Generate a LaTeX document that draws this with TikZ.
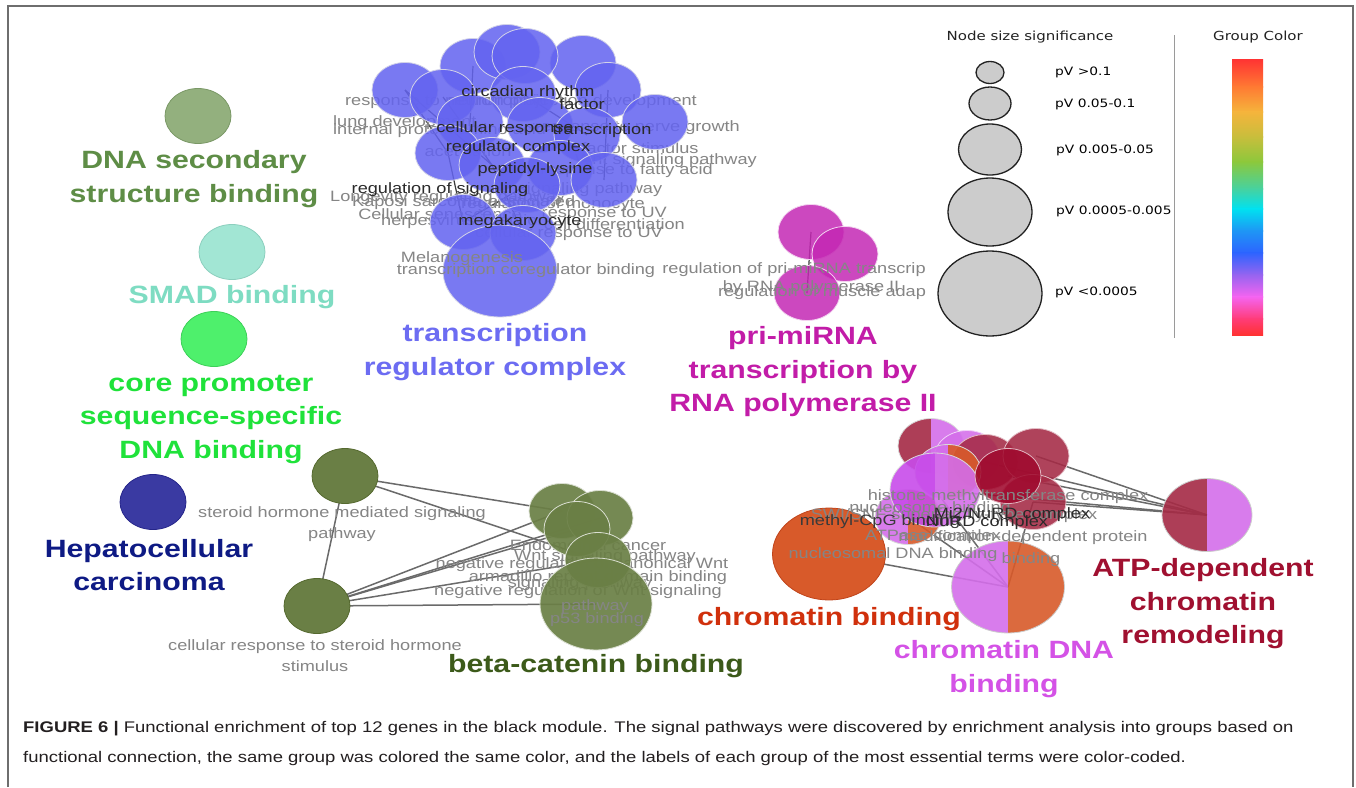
\documentclass[tikz,border=0pt]{standalone}
\usepackage{fontspec}
\usetikzlibrary{shapes.geometric}
\newfontfamily\labfont{Liberation Sans}[FakeStretch=1.21]
\newfontfamily\legfont{DejaVu Sans}[FakeStretch=1.2]
\newfontfamily\capfont{Liberation Sans}[FakeStretch=1.2]

\definecolor{framec}{HTML}{6E6E6E}
\definecolor{dnasecF}{HTML}{93B07E}\definecolor{dnasecD}{HTML}{7A9866}\definecolor{dnasecT}{HTML}{5E8D46}
\definecolor{smadF}{HTML}{A2E6D4}\definecolor{smadD}{HTML}{8CCFBE}\definecolor{smadT}{HTML}{7EDCC2}
\definecolor{coreF}{HTML}{4EF06C}\definecolor{coreD}{HTML}{3CD058}\definecolor{coreT}{HTML}{1FE23A}
\definecolor{hepF}{HTML}{3A3AA2}\definecolor{hepD}{HTML}{26268A}\definecolor{hepT}{HTML}{0E1A84}
\definecolor{tblue}{HTML}{6464F0}\definecolor{tblueline}{HTML}{D2D2E8}\definecolor{tblueT}{HTML}{6C6CF2}
\definecolor{pmag}{HTML}{C428B4}\definecolor{pmagT}{HTML}{C21CA8}
\definecolor{corg}{HTML}{D85A2A}\definecolor{corgD}{HTML}{C0441A}\definecolor{corgT}{HTML}{D0300C}
\definecolor{corch}{HTML}{D46EEA}\definecolor{cviol}{HTML}{C84CEA}\definecolor{corchT}{HTML}{D452E6}
\definecolor{ccrim}{HTML}{A52A45}\definecolor{cdeep}{HTML}{A00A2E}\definecolor{ccrimT}{HTML}{A01030}
\definecolor{oliveF}{HTML}{6A7F45}\definecolor{oliveD}{HTML}{55692F}\definecolor{oliveT}{HTML}{3C5A1A}
\definecolor{termgray}{HTML}{858585}\definecolor{termdark}{HTML}{2A2A2A}
\definecolor{linkgray}{HTML}{6A6A6A}\definecolor{darklinkc}{HTML}{3A3A3A}
\definecolor{legfill}{HTML}{CCCCCC}\definecolor{legline}{HTML}{222222}\definecolor{sepline}{HTML}{9A9A9A}
\definecolor{capc}{HTML}{231F20}
% colour bar stops
\definecolor{gA}{HTML}{FF3333}\definecolor{gB}{HTML}{FF7A33}\definecolor{gC}{HTML}{F5B43C}
\definecolor{gD}{HTML}{C8BE3C}\definecolor{gE}{HTML}{8CC83C}\definecolor{gF}{HTML}{46D2A0}
\definecolor{gG}{HTML}{00E1F0}\definecolor{gH}{HTML}{1E96F5}\definecolor{gI}{HTML}{2D64FF}
\definecolor{gJ}{HTML}{9664F0}\definecolor{gK}{HTML}{F564F0}\definecolor{gL}{HTML}{FF3C78}
\definecolor{gM}{HTML}{FF3232}

\pgfdeclarelayer{back}
\pgfdeclarelayer{edges}
\pgfsetlayers{back,edges,main}

\begin{document}
\begin{tikzpicture}[x=1pt,y=-1pt,
  term/.style={ellipse, inner sep=0pt, outer sep=0pt, minimum width=66pt, minimum height=55pt, line width=0.8pt},
  bigterm/.style={term, minimum width=113pt, minimum height=92pt},
  bnode/.style={term, fill=tblue, fill opacity=0.86, draw=tblueline},
  pnode/.style={term, fill=pmag, fill opacity=0.85, draw=white!80!pmag},
  onode/.style={term, fill=oliveF, fill opacity=0.92, draw=white!75!oliveF},
  cnode/.style={term, fill=#1, fill opacity=0.88, draw=white!70!#1},
  halves/.style 2 args={path picture={
      \fill[#1, fill opacity=0.9] (path picture bounding box.south west) rectangle (path picture bounding box.north);
      \fill[#2, fill opacity=0.9] (path picture bounding box.south) rectangle (path picture bounding box.north east);}},
  grp/.style={font=\labfont\bfseries\fontsize{25}{33.5}\selectfont, align=center, inner sep=0pt},
  termtext/.style={font=\labfont\fontsize{15}{21}\selectfont, inner sep=0pt, text=termgray, align=center},
  termdark/.style={termtext, text=termdark},
  link/.style={draw=linkgray, line width=1.5pt},
  darklink/.style={draw=darklinkc, line width=1.2pt},
  legc/.style={ellipse, inner sep=0pt, fill=legfill, draw=legline, line width=1.3pt},
  legtext/.style={font=\legfont\fontsize{11.5}{14}\selectfont, inner sep=0pt, anchor=west, text=black},
  legtitle/.style={font=\legfont\fontsize{12.5}{15}\selectfont, inner sep=0pt, text=legline},
  captext/.style={anchor=base west, inner sep=0pt, font=\capfont\fontsize{15.4}{18}\selectfont, text=capc}
]
\useasboundingbox (0,0) rectangle (1356,787);
\begin{pgfonlayer}{back}
  \fill[white] (0,0) rectangle (1356,787);
  \draw[framec, line width=1.4pt] (8,787) -- (8,6) -- (1353,6) -- (1353,787);
\end{pgfonlayer}

% ---------- isolated groups on the left ----------
\node[term, fill=dnasecF, draw=dnasecD] (dnasec) at (198,116) {};
\node[grp, text=dnasecT] (dnasecL) at (194,179) {DNA secondary\\structure binding};
\node[term, fill=smadF, draw=smadD] (smad) at (232,252) {};
\node[grp, text=smadT] (smadL) at (232,297) {SMAD binding};
\node[term, fill=coreF, draw=coreD] (core) at (214,339) {};
\node[grp, text=coreT] (coreL) at (211,419) {core promoter\\sequence-specific\\DNA binding};
\node[term, fill=hepF, draw=hepD] (hep) at (153,502) {};
\node[grp, text=hepT] (hepL) at (149,565) {Hepatocellular\\carcinoma};

% ---------- transcription regulator complex group ----------
\node[termtext, anchor=west] (t1) at (345,102) {response to neurotrophin};
\node[termtext, anchor=east] (t2) at (697,102) {neuron projection development};
\node[termtext, anchor=west] (t3) at (333,123) {lung development};
\node[termtext, anchor=west] (t4) at (333,131) {internal protein amino acid};
\node[termtext] (t5) at (468,153) {acetylation};
\node[termtext, anchor=east] (t6) at (740,128) {response to nerve growth};
\node[termtext] (t7) at (640,148) {factor stimulus};
\node[termtext, anchor=east] (t8) at (757,161) {Wnt signaling pathway};
\node[termtext, anchor=east] (t9) at (713,171) {response to fatty acid};
\node[termtext, anchor=west] (t10) at (330,198) {Longevity regulating pathway};
\node[termtext, anchor=west] (t11) at (352,203) {Kaposi sarcoma-associated};
\node[termtext, anchor=west] (t12) at (381,222) {herpesvirus infection};
\node[termtext, anchor=east] (t13) at (645,205) {regulation of monocyte};
\node[termtext, anchor=east] (t14) at (667,214) {response to UV};
\node[termtext, anchor=east] (t15) at (685,224) {cell differentiation};
\node[termtext] (t16) at (569,234) {cellular response to UV};
\node[termtext] (t19) at (440,214) {Cellular senescence};
\node[termtext] (t20) at (590,190) {signaling pathway};

\node[bnode] (b1) at (405,90) {};
\node[bnode] (b3) at (473,66) {};
\node[bnode] (b4) at (507,52) {};
\node[bnode] (b6) at (583,63) {};
\node[bnode] (b5) at (525,56) {};
\node[bnode] (b2) at (443,97) {};
\node[bnode] (b7) at (608,90) {};
\node[bnode] (b10) at (523,94) {};
\node[bnode] (b8) at (655,122) {};
\node[bnode] (b19) at (470,122) {};
\node[bnode] (b20) at (540,125) {};
\node[bnode] (b9) at (587,135) {};
\node[bnode] (b11) at (448,153) {};
\node[bnode] (b12) at (492,165) {};
\node[bnode] (b18) at (560,168) {};
\node[bnode] (b14) at (604,180) {};
\node[bnode] (b13) at (527,185) {};
\node[bnode] (b15) at (463,222) {};
\node[bnode] (b16) at (523,233) {};
\node[bnode, minimum width=114pt, minimum height=92pt] (b17) at (500,271) {};

\begin{pgfonlayer}{edges}
  \draw[darklink] (b1.center) -- (b11.center);
  \draw[darklink] (b2.center) -- (b12.center);
  \draw[darklink] (b3.center) -- (b19.center);
  \draw[darklink] (b10.center) -- (b9.center);
  \draw[darklink] (b15.center) -- (b13.center);
  \draw[darklink] (b12.center) -- (b16.center);
  \draw[darklink] (b1.center) -- (b12.center);
  \draw[darklink] (b11.center) -- (b15.center);
  \draw[darklink] (b7.center) -- (b14.center);
\end{pgfonlayer}

\node[termtext] (t17) at (462,259) {Melanogenesis};
\node[termtext] (t18) at (526,271) {transcription coregulator binding};
\node[termdark] (d1) at (528,93) {circadian rhythm};
\node[termdark] (d2) at (582,104) {factor};
\node[termdark] (d3) at (505,129) {cellular response};
\node[termdark] (d4) at (602,131) {transcription};
\node[termdark] (d5) at (518,148) {regulator complex};
\node[termdark] (d6) at (535,170) {peptidyl-lysine};
\node[termdark] (d7) at (440,190) {regulation of signaling};
\node[termdark] (d8) at (520,222) {megakaryocyte};

\node[grp, text=tblueT] (trcL) at (495,352) {transcription\\regulator complex};

% ---------- pri-miRNA group ----------
\node[pnode] (p1) at (811,232) {};
\node[pnode] (p2) at (845,254) {};
\node[pnode] (p3) at (807,293) {};
\begin{pgfonlayer}{edges}
  \draw[darklink] (p1.center) -- (p3.center);
\end{pgfonlayer}
\node[termtext] (pt1) at (794,270) {regulation of pri-miRNA transcrip};
\node[termtext] (pt2) at (811,288) {by RNA polymerase II};
\node[termtext] (pt3) at (822,293) {regulation of muscle adap};
\node[grp, text=pmagT] (priL) at (803,372) {pri-miRNA\\transcription by\\RNA polymerase II};

% ---------- chromatin groups ----------
\node[bigterm, fill=corg, draw=corgD] (cbind) at (829,554) {};
\node[bigterm, draw=white!60!gray, halves={corch}{corg}] (cdna) at (1008,587) {};
\node[term, minimum width=90pt, minimum height=73pt, draw=white!60!gray, halves={ccrim}{corch}] (atp) at (1207,515) {};

\node[term, draw=white!70!gray, halves={ccrim}{corch}] (ca) at (931,446) {};
\node[cnode=corch] (cb) at (967,458) {};
\node[cnode=ccrim] (ci) at (985,462) {};
\node[cnode=ccrim] (cg) at (1036,456) {};
\node[cnode=ccrim] (ch) at (1033,502) {};
\node[term, draw=white!70!gray, halves={corch}{corg}] (cc) at (948,472) {};
\node[term, draw=white!70!gray, halves={corch}{corg}] (ce) at (908,517) {};
\node[term, minimum width=90pt, minimum height=74pt, draw=white!70!gray, halves={cviol}{corch}] (cd) at (935,490) {};
\node[cnode=cdeep] (cf) at (1008,476) {};

\begin{pgfonlayer}{edges}
  \draw[link] (cf.center) -- (atp.center);
  \draw[link] (cg.center) -- (atp.center);
  \draw[link] (ch.center) -- (atp.center);
  \draw[link] (ci.center) -- (atp.center);
  \draw[link] (cd.center) -- (atp.center);
  \draw[link] (cbind.center) -- (cdna.center);
  \draw[link] (ce.center) -- (cdna.center);
  \draw[link] (cd.center) -- (cdna.center);
  \draw[link] (ch.center) -- (cdna.center);
\end{pgfonlayer}

\node[termtext] (ct1) at (1008,497) {histone methyltransferase complex};
\node[termtext] (ct3) at (930,509) {nucleosome binding};
\node[termtext] (ct2) at (954,516) {SWI/SNF superfamily-type complex};
\node[termtext, text=darklinkc] (ct10) at (880,522) {methyl-CpG binding};
\node[termtext] (ct4) at (933,537) {ATPase complex};
\node[termtext] (ct5) at (1023,538) {modification-dependent protein};
\node[termtext] (ct6) at (1031,560) {binding};
\node[termtext] (ct7) at (893,555) {nucleosomal DNA binding};
\node[termdark] (ct8) at (1012,515) {Mi2/NuRD complex};
\node[termdark] (ct9) at (987,523) {NuRD complex};

\node[grp, text=corgT] (cbindL) at (829,619) {chromatin binding};
\node[grp, text=corchT] (cdnaL) at (1004,669) {chromatin DNA\\binding};
\node[grp, text=ccrimT] (atpL) at (1203,604) {ATP-dependent\\chromatin\\remodeling};

% ---------- beta-catenin binding group ----------
\node[termtext] (st1) at (342,524) {steroid hormone mediated signaling\\pathway};
\node[termtext] (st2) at (315,656) {cellular response to steroid hormone\\stimulus};
\node[termtext] (bt1) at (588,545) {Endometrial cancer};
\node[termtext] (bt2) at (605,557) {Wnt signaling pathway};
\node[termtext] (bt3) at (582,565) {negative regulation of canonical Wnt};
\node[termtext] (bt4) at (598,578) {armadillo repeat domain binding};
\node[termtext] (bt5) at (580,584) {signaling pathway};
\node[termtext] (bt6) at (578,592) {negative regulation of Wnt signaling};

\node[term, fill=oliveF, draw=oliveD] (s1) at (345,476) {};
\node[term, fill=oliveF, draw=oliveD] (s2) at (317,606) {};
\node[onode] (g1) at (562,511) {};
\node[onode] (g2) at (600,518) {};
\node[onode] (g3) at (577,529) {};
\node[onode] (g5) at (598,560) {};
\node[onode, minimum width=112pt, minimum height=92pt] (g6) at (596,604) {};

\begin{pgfonlayer}{edges}
  \draw[link] (s1) -- (s2);
  \draw[link] (s1.center) -- (g1.center);
  \draw[link] (s1.center) -- (g5.center);
  \draw[link] (s2.center) -- (g1.center);
  \draw[link] (s2.center) -- (g3.center);
  \draw[link] (s2.center) -- (g2.center);
  \draw[link] (s2.center) -- (g5.center);
  \draw[link] (s2.center) -- (g6.center);
\end{pgfonlayer}

\node[termtext] (bt7) at (595,607) {pathway};
\node[termtext] (bt8) at (597,620) {p53 binding};
\node[grp, text=oliveT] (betaL) at (596,666) {beta-catenin binding};

% ---------- legend: node size ----------
\node[legtitle] (legT) at (1030,37) {Node size significance};
\node[legc, minimum width=28pt, minimum height=22pt] (l1) at (990,72.5) {};
\node[legc, minimum width=42pt, minimum height=33pt] (l2) at (990,103.5) {};
\node[legc, minimum width=63pt, minimum height=51pt] (l3) at (990,149.5) {};
\node[legc, minimum width=84pt, minimum height=68pt] (l4) at (990,212) {};
\node[legc, minimum width=104pt, minimum height=85pt] (l5) at (990,293.5) {};
\node[legtext] (l1t) at (1055,72) {pV >0.1};
\node[legtext] (l2t) at (1055,104) {pV 0.05-0.1};
\node[legtext] (l3t) at (1056,150) {pV 0.005-0.05};
\node[legtext] (l4t) at (1056,211) {pV 0.0005-0.005};
\node[legtext] (l5t) at (1055,292) {pV <0.0005};
\draw[sepline, line width=1pt] (1174,35) -- (1174,338);

% ---------- legend: group colour ----------
\node[legtitle] (grpT) at (1258,37) {Group Color};
\shade[top color=gA, bottom color=gB] (1232,59) rectangle (1263,87.1);
\shade[top color=gB, bottom color=gC] (1232,86.6) rectangle (1263,112.1);
\shade[top color=gC, bottom color=gD] (1232,111.6) rectangle (1263,137.1);
\shade[top color=gD, bottom color=gE] (1232,136.6) rectangle (1263,162.1);
\shade[top color=gE, bottom color=gF] (1232,161.6) rectangle (1263,189.1);
\shade[top color=gF, bottom color=gG] (1232,188.6) rectangle (1263,209.1);
\shade[top color=gG, bottom color=gH] (1232,208.6) rectangle (1263,231.1);
\shade[top color=gH, bottom color=gI] (1232,230.6) rectangle (1263,253.1);
\shade[top color=gI, bottom color=gJ] (1232,252.6) rectangle (1263,275.1);
\shade[top color=gJ, bottom color=gK] (1232,274.6) rectangle (1263,297.1);
\shade[top color=gK, bottom color=gL] (1232,296.6) rectangle (1263,319.1);
\shade[top color=gL, bottom color=gM] (1232,318.6) rectangle (1263,335);

% ---------- caption ----------
\node[captext] (cap1) at (23,732)
  {\textbf{FIGURE 6 |} Functional enrichment of top 12 genes in the black module. The signal pathways were discovered by enrichment analysis into groups based on};
\node[captext] (cap2) at (23,762)
  {functional connection, the same group was colored the same color, and the labels of each group of the most essential terms were color-coded.};
\end{tikzpicture}
\end{document}
